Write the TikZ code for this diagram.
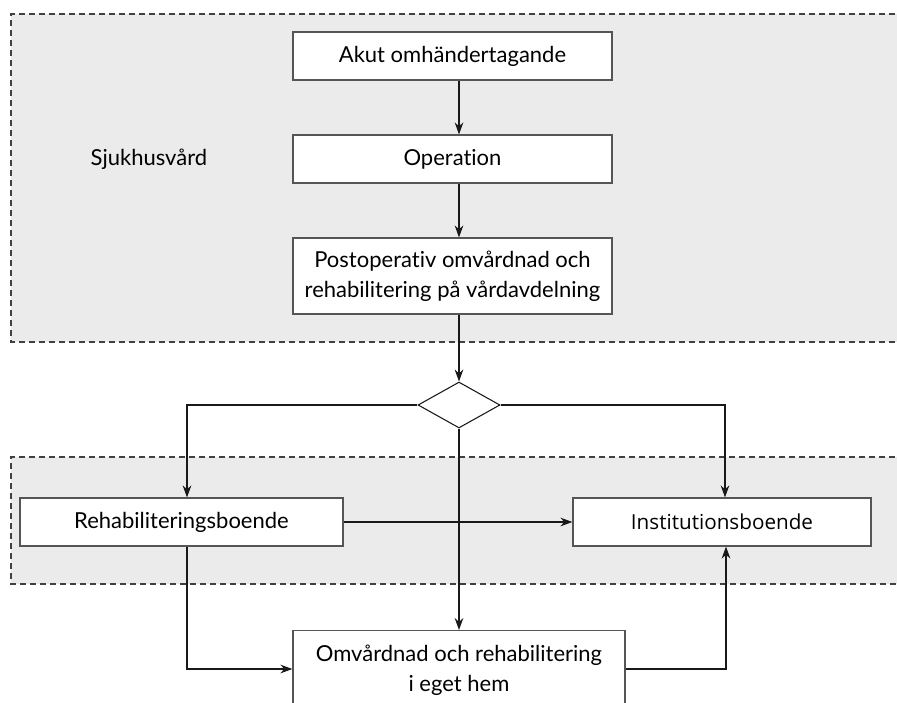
\documentclass[tikz,border=0pt]{standalone}
\usepackage{fontspec}
\setmainfont{Lato}[Ligatures={NoCommon}]
\newfontfamily\opensans{Open Sans}
\usetikzlibrary{arrows.meta,shapes.geometric}
\definecolor{zonefill}{HTML}{EBEBEB}
\definecolor{boxline}{HTML}{555555}
\tikzset{
  zoneline/.style={draw=black!75, line width=0.9pt, dash pattern=on 4.5pt off 3pt},
  txt/.style={font=\fontsize{16.5}{22.5}\selectfont},
  stepbox/.style={draw=boxline, fill=white, line width=0.9pt, rectangle, minimum height=35pt, align=center, inner sep=0pt, txt},
  conn/.style={draw=black!90, line width=0.8pt, -{Stealth[length=9pt,width=6.5pt]}},
  decision/.style={diamond, draw=black!90, fill=white, line width=0.8pt, minimum width=61.5pt, minimum height=34.5pt, inner sep=0pt, aspect=2.4},
}
\begin{document}
\begin{tikzpicture}[x=0.75pt,y=-0.75pt]
\clip (0,0) rectangle (897,703);
\useasboundingbox (0,0) rectangle (897,703);
% zones
\path[fill=zonefill] (11,14) rectangle (905,342);
\draw[zoneline] (905,14) -- (11,14) -- (11,342) -- (905,342);
\path[fill=zonefill] (11,457) rectangle (905,584);
\draw[zoneline] (905,457) -- (11,457) -- (11,584) -- (905,584);
% label
\node[txt, anchor=west] (sjuk) at (86,159) {Sjukhusvård};
% boxes
\node[stepbox, minimum width=239.25pt, minimum height=36pt] (akut) at (452.5,56) {Akut omhändertagande};
\node[stepbox, minimum width=239.25pt, minimum height=36pt] (op) at (452.5,159) {Operation};
\node[stepbox, minimum width=239.25pt, minimum height=57pt] (post) at (452.5,276) {Postoperativ omvårdnad och\\rehabilitering på vårdavdelning};
\node[decision] (dec) at (459,405) {};
\node[stepbox, minimum width=242.25pt, minimum height=36pt] (rehab) at (181.5,522) {Rehabiliteringsboende};
\node[stepbox, minimum width=223.5pt, minimum height=36pt, font=\opensans\fontsize{15.5}{22}\selectfont] (inst) at (722,522) {Institutionsboende};
\node[stepbox, minimum width=249pt, minimum height=90pt, anchor=north] (hem) at (459,630) {};
\node[txt, align=center] (hemtxt) at (459,670) {Omvårdnad och rehabilitering\\i eget hem};
% connectors
\draw[conn] (akut.south -| 459,0) -- (op.north -| 459,0);
\draw[conn] (op.south -| 459,0) -- (post.north -| 459,0);
\draw[conn] (post.south -| 459,0) -- (dec.north);
\draw[conn] (dec.west) -| (rehab.north -| 187,0);
\draw[conn] (dec.east) -| (inst.north -| 725,0);
\draw[conn] (dec.south) -- (hem.north);
\draw[conn] (rehab.east) -- (inst.west);
\draw[conn] (rehab.south -| 187,0) |- (hem.west |- 0,669);
\draw[conn] (hem.east |- 0,669) -| (inst.south -| 726,0);
\end{tikzpicture}
\end{document}
